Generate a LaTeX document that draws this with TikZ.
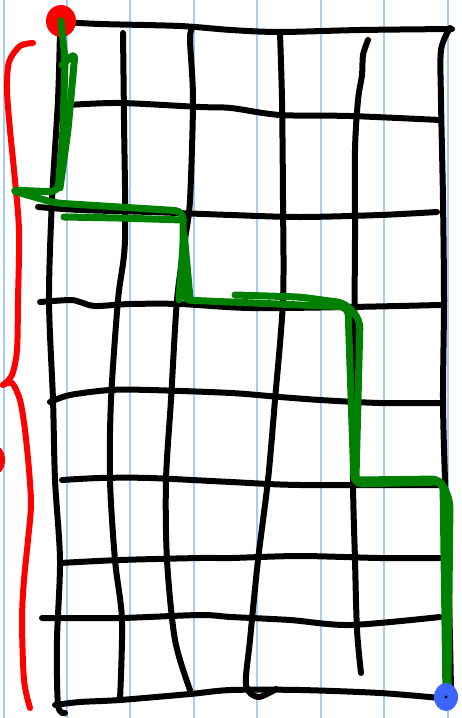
\documentclass[tikz,border=0pt]{standalone}
\usepackage{tikz}
\usetikzlibrary{shapes.geometric}

\definecolor{ruleblue}{RGB}{165,205,250}
\definecolor{penred}{RGB}{255,0,0}
\definecolor{pengreen}{RGB}{0,128,0}
\definecolor{penblue}{RGB}{60,100,255}

\tikzset{
  ruling/.style={ruleblue, line width=1.8pt},
  gridline/.style={black, line width=6pt, line cap=round, line join=round},
  brace/.style={penred, line width=6pt, line cap=round, line join=round},
  route/.style={pengreen, line width=7pt, line cap=round, line join=round},
}

\begin{document}
\begin{tikzpicture}[x=1pt, y=-1pt, every node/.style={circle, inner sep=0pt}]
	\clip (0,0) rectangle (462,718);
	\fill[white] (0,0) rectangle (462,718);
	% paper
	\foreach \x in {4,67,130,194,257,321,384,448}
		\draw[ruling] (\x,0) -- (\x,718);
	% vertical strokes
	\draw[gridline] plot[smooth] coordinates {(60,30) (58,100) (52,200) (49,300) (53,400) (55,480) (60,560) (57,640) (58,705) (65,713)};
	\draw[gridline] plot[smooth] coordinates {(123,33) (124,120) (125,240) (118,300) (111,400) (110,480) (115,560) (122,620) (120,700)};
	\draw[gridline] plot[smooth] coordinates {(192,28) (190,40) (193,100) (190,200) (185,240) (177,300) (171,400) (166,480) (167,560) (175,640) (190,690)};
	\draw[gridline] plot[smooth] coordinates {(280,33) (282,100) (283,200) (283,300) (275,400) (268,480) (258,560) (250,640) (246,685) (258,697) (276,689)};
	\draw[gridline] plot[smooth] coordinates {(368,40) (363,55) (362,75) (358,100) (355,150) (355,240) (354,360) (353,480) (355,560) (357,630) (361,673)};
	\draw[gridline] plot[smooth] coordinates {(450,28) (441,50) (441,100) (443,200) (444,300) (443,400) (445,480) (448,560) (450,640) (451,690)};
	% horizontal strokes
	\draw[gridline] plot[smooth] coordinates {(65,22) (100,24) (180,26) (231,30) (280,32) (360,30) (452,29)};
	\draw[gridline] plot[smooth] coordinates {(68,105) (120,103) (200,107) (231,108) (280,115) (350,116) (440,120)};
	\draw[gridline] plot[smooth] coordinates {(38,207) (80,210) (150,212) (231,215) (300,217) (380,215) (437,212)};
	\draw[gridline] plot[smooth] coordinates {(40,302) (70,300) (80,302) (95,306) (130,304) (180,304) (250,308) (350,307) (440,305)};
	\draw[gridline] plot[smooth] coordinates {(50,402) (70,395) (110,390) (150,390) (231,393) (280,397) (320,400) (380,403) (440,403)};
	\draw[gridline] plot[smooth] coordinates {(62,480) (100,478) (150,478) (231,482) (300,485) (440,485)};
	\draw[gridline] plot[smooth] coordinates {(60,563) (120,560) (200,558) (231,558) (300,556) (380,558) (440,558)};
	\draw[gridline] plot[smooth] coordinates {(42,618) (120,618) (200,615) (231,617) (290,620) (350,625) (440,617)};
	\draw[gridline] plot[smooth] coordinates {(55,705) (80,702) (120,700) (190,694) (231,690) (300,690) (380,693) (440,698)};
	% brace
	\draw[brace] plot[smooth] coordinates {(33,43) (20,46) (9,62) (7,90) (10,130) (14,170) (19,230) (18,300) (17,350) (12,375) (3,385)};
	\draw[brace] plot[smooth] coordinates {(3,385) (12,383) (20,400) (25,430) (29,470) (31,505) (28,540) (24,580) (22,620) (24,680) (30,708)};
	\fill[penred] (-6,460) ellipse (11 and 15);
	\node[fill=penred, ellipse, minimum width=30pt, minimum height=32pt] (start) at (61,21) {};
	\coordinate (g) at (446,697);
	% route
	\draw[route, rounded corners=8pt] (start.center) -- (65,60) -- (63,130) -- (58,192) -- (10,190) -- (55,203) -- (183,211) -- (183,300) -- (348,307) -- (354,484) -- (443,482) -- (g);
	\draw[route, rounded corners=6pt] (62,65) -- (75,53) -- (68,130) -- (60,188);
	\draw[route, rounded corners=6pt] (64,217) -- (120,218) -- (183,220);
	\draw[route, rounded corners=4pt] (179,300) -- (184,232) -- (190,298);
	\draw[route, rounded corners=8pt] (235,295) -- (300,297) -- (345,303) -- (360,320) -- (358,400) -- (356,478);
	\draw[route, rounded corners=8pt] (358,480) -- (440,479) -- (450,500) -- (448,688);
	\node[fill=penblue, ellipse, minimum width=24pt, minimum height=28pt] (goal) at (g) {};
	\fill[black] (goal) circle (1.6);
\end{tikzpicture}
\end{document}
